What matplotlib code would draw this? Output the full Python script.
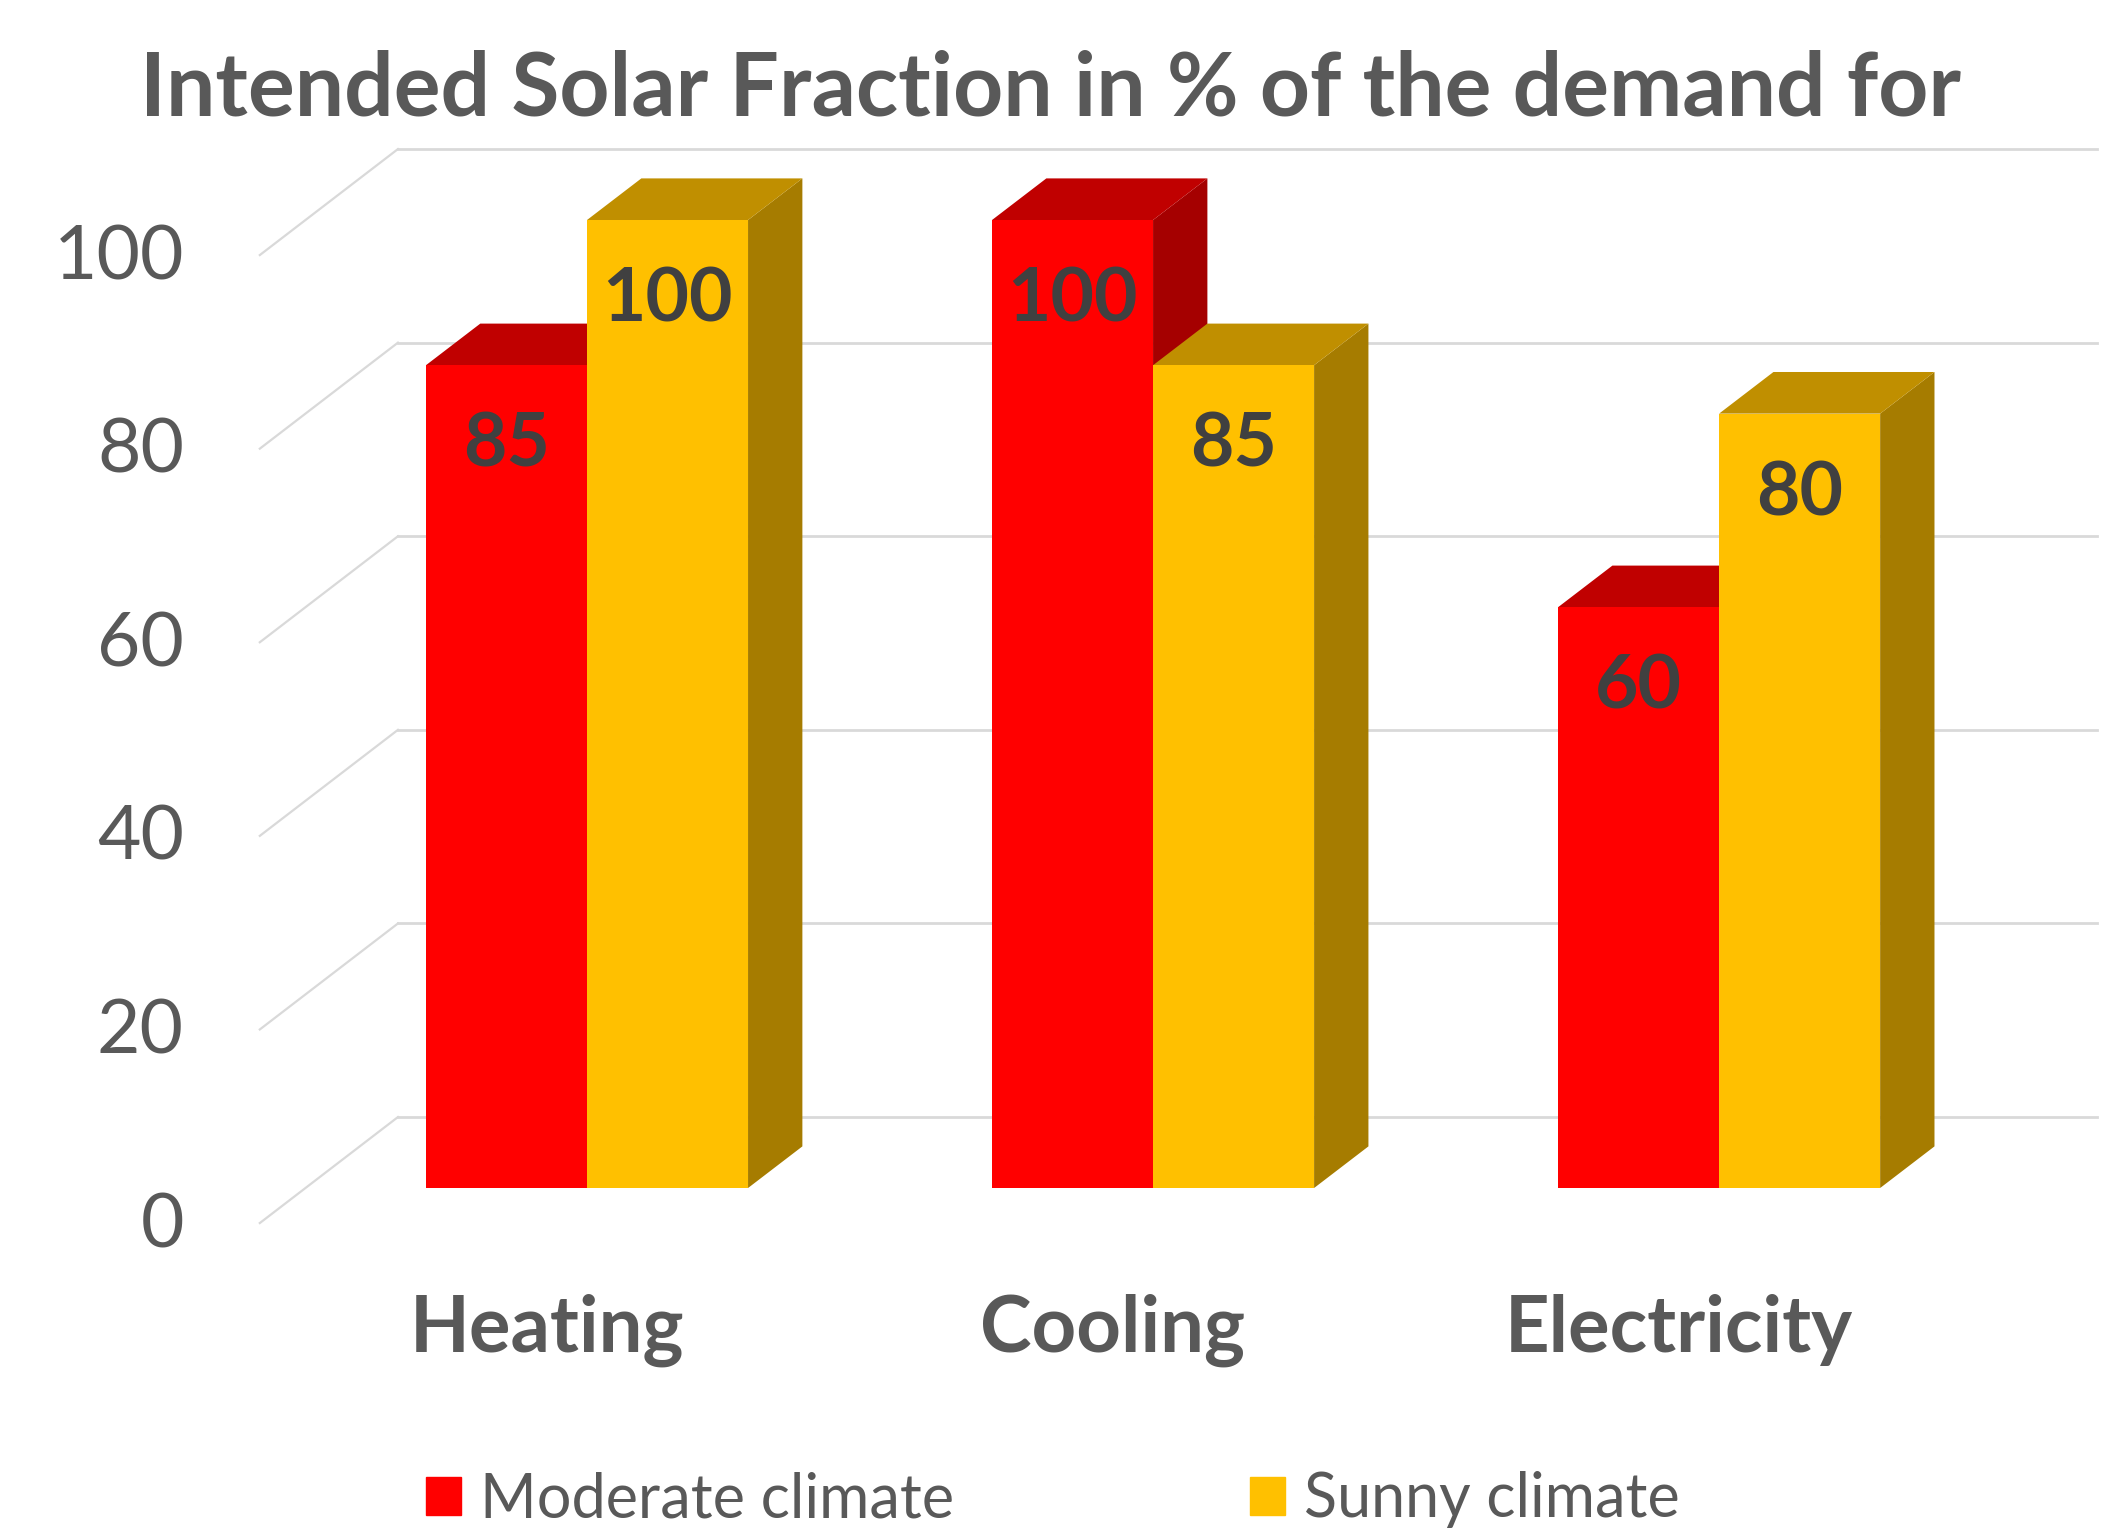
import numpy as np
import matplotlib.pyplot as plt
from matplotlib.patches import Patch

# data
categories = ["Heating", "Cooling", "Electricity"]
series_names = ["Moderate climate", "Sunny climate"]
moderate = [85, 100, 60]
sunny = [100, 85, 80]
y_ticks = [0, 20, 40, 60, 80, 100]
title = "Intended Solar Fraction in % of the demand for"

front_cols = ["#FF0000", "#FFC000"]
top_cols = ["#C00000", "#C08F00"]
side_cols = ["#A50000", "#A67C00"]
grey = "#595959"

plt.rcParams['font.family'] = ['Lato', 'DejaVu Sans']

fig = plt.figure(figsize=(21.21, 15.30), dpi=100)
ax = fig.add_axes([0, 0, 1, 1])
# x in category units, y in percent (front face of the bars)
ax.set_xlim(-1.037, 2.710)
ax.set_ylim(-35.33, 122.73)
ax.axis('off')

bw = 0.2845            # bar width
ddx, ddy = 0.096, 4.3  # depth of a bar
wall_x0, wall_x1, wall_dy = -0.334, 2.668, 7.33   # back wall
fl_dx, fl_dy = -0.244, -10.95                     # side wall depth

# back wall gridlines + side wall diagonals + tick labels
for t in y_ticks:
    yb = wall_dy + t
    ax.plot([wall_x0, wall_x1], [yb, yb], color='#D9D9D9', lw=2, zorder=1)
    ax.plot([wall_x0, wall_x0 + fl_dx], [yb, yb + fl_dy], color='#D9D9D9', lw=1.6, zorder=1)
    ax.text(-0.712, t - 6.1, str(t), ha='right', va='baseline', fontsize=54, color=grey)


def bar3d(x0, h, k, label=None):
    x1 = x0 + bw
    ax.fill([x1, x1 + ddx, x1 + ddx, x1], [0, ddy, h + ddy, h], color=side_cols[k], lw=0, zorder=2)
    ax.fill([x0, x1, x1 + ddx, x0 + ddx], [h, h, h + ddy, h + ddy], color=top_cols[k], lw=0, zorder=2)
    ax.bar(x0, h, width=bw, align='edge', color=front_cols[k], lw=0, zorder=2, label=label)
    ax.text(x0 + bw / 2, h - 10.5, str(h), ha='center', va='baseline', fontsize=54,
            fontweight='bold', color='#404040', zorder=3)


for i, cat in enumerate(categories):
    bar3d(i - bw, moderate[i], 0)
    bar3d(i, sunny[i], 1)
    ax.text(i - 0.071, -16.9, cat, ha='center', va='baseline', fontsize=56,
            fontweight='bold', color=grey)

fig.text(0.4955, 1 - 115 / 1530, title, ha='center', va='baseline', fontsize=63,
         fontweight='bold', color=grey)

handles = [Patch(color=front_cols[0], label=series_names[0]),
           Patch(color=front_cols[1], label=series_names[1])]
leg = ax.legend(handles=handles, loc='center left', ncol=2, frameon=False,
                bbox_to_anchor=(426 / 2121, 1 - 1500 / 1530), bbox_transform=fig.transFigure,
                fontsize=44, handlelength=0.57, handleheight=0.57, handletextpad=0.31,
                columnspacing=4.85, borderpad=0, borderaxespad=0)
for txt in leg.get_texts():
    txt.set_color(grey)

fig.savefig("out.png", dpi=100, facecolor='white')
